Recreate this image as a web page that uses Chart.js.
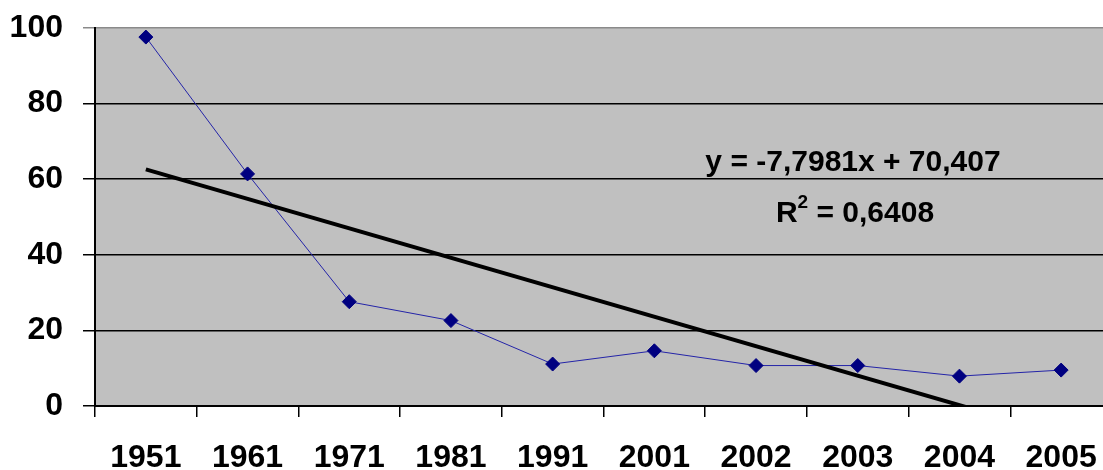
<!DOCTYPE html>
<html>
<head>
<meta charset="utf-8">
<script src="https://cdn.jsdelivr.net/npm/chart.js@4.4.0/dist/chart.umd.min.js"></script>
<style>
  html, body { margin: 0; padding: 0; background: #ffffff; overflow: hidden; }
  #wrap { width: 1103px; height: 470px; overflow: hidden; position: relative; }
  canvas { display: block; }
</style>
</head>
<body>
<div id="wrap"><canvas id="c" width="1125" height="470"></canvas></div>
<script>
// ---- data ----
const categories = ['1951', '1961', '1971', '1981', '1991', '2001', '2002', '2003', '2004', '2005'];
const seriesValues = [97.6, 61.4, 27.6, 22.6, 11.1, 14.6, 10.7, 10.7, 7.9, 9.5];
const yTicks = [0, 20, 40, 60, 80, 100];
// linear trendline shown in the chart: y = -7,7981x + 70,407  (x = 1..10)
const trendSlope = -7.7981;
const trendIntercept = 70.407;
const equationText = 'y = -7,7981x + 70,407';
const r2Value = '0,6408';

// trend line: only the two ends are given, spanGaps joins them
const trendValues = categories.map((c, i) =>
  (i === 0 || i === categories.length - 1) ? trendIntercept + trendSlope * (i + 1) : null);

const FONT = '"Liberation Sans", Arial, sans-serif';

const plotBg = {
  id: 'plotBg',
  beforeDraw(chart) {
    const { ctx, chartArea: a } = chart;
    ctx.save();
    ctx.fillStyle = '#c0c0c0';
    ctx.fillRect(a.left, a.top, a.right - a.left, a.bottom - a.top);
    ctx.restore();
  }
};

const eqLabel = {
  id: 'eqLabel',
  afterDatasetsDraw(chart) {
    const ctx = chart.ctx;
    ctx.save();
    ctx.fillStyle = '#000000';
    ctx.textBaseline = 'middle';
    ctx.font = 'bold 30px ' + FONT;
    ctx.textAlign = 'center';
    ctx.fillText(equationText, 853, 163);
    // R² line
    const rest = ' = ' + r2Value;
    const wR = ctx.measureText('R').width;
    const wRest = ctx.measureText(rest).width;
    ctx.font = 'bold 19px ' + FONT;
    const wSup = ctx.measureText('2').width;
    const total = wR + wSup + wRest;
    let x = 855 - total / 2;
    ctx.textAlign = 'left';
    ctx.font = 'bold 30px ' + FONT;
    ctx.fillText('R', x, 214);
    x += wR;
    ctx.font = 'bold 19px ' + FONT;
    ctx.fillText('2', x, 203);
    x += wSup;
    ctx.font = 'bold 30px ' + FONT;
    ctx.fillText(rest, x, 214);
    ctx.restore();
  }
};

new Chart(document.getElementById('c'), {
  type: 'line',
  data: {
    labels: categories,
    datasets: [
      {
        label: 'values',
        data: seriesValues,
        borderColor: '#2424a8',
        borderWidth: 1,
        pointStyle: 'rectRot',
        pointRadius: 7,
        pointBackgroundColor: '#000080',
        pointBorderColor: '#000080',
        pointBorderWidth: 1,
        tension: 0,
        order: 2
      },
      {
        label: 'trend',
        data: trendValues,
        spanGaps: true,
        borderColor: '#000000',
        borderWidth: 4,
        pointRadius: 0,
        tension: 0,
        order: 1
      }
    ]
  },
  options: {
    responsive: false,
    animation: false,
    events: [],
    layout: { padding: { top: 28, right: 13, left: 0, bottom: 0 } },
    plugins: { legend: { display: false }, tooltip: { enabled: false } },
    scales: {
      x: {
        type: 'category',
        offset: true,
        grid: {
          offset: true,
          drawOnChartArea: false,
          drawTicks: true,
          tickLength: 11,
          color: '#000000',
          lineWidth: 1.5
        },
        border: { display: true, color: '#000000', width: 2 },
        ticks: {
          color: '#000000',
          font: { family: FONT, size: 32, weight: 'bold' },
          padding: 22,
          maxRotation: 0,
          autoSkip: false
        },
        afterFit(scale) { scale.height = 64; }
      },
      y: {
        min: 0,
        max: 100,
        afterBuildTicks(scale) { scale.ticks = yTicks.map(v => ({ value: v })); },
        grid: {
          drawTicks: true,
          tickLength: 12,
          color: (ctx) => (ctx.tick && ctx.tick.value === 100) ? '#8a8a8a' : '#000000',
          lineWidth: 1.5
        },
        border: { display: true, color: '#000000', width: 2 },
        ticks: {
          color: '#000000',
          font: { family: FONT, size: 32, weight: 'bold', lineHeight: 0.5 },
          padding: 20
        },
        afterFit(scale) { scale.width = 95; }
      }
    }
  },
  plugins: [plotBg, eqLabel]
});
</script>
</body>
</html>
